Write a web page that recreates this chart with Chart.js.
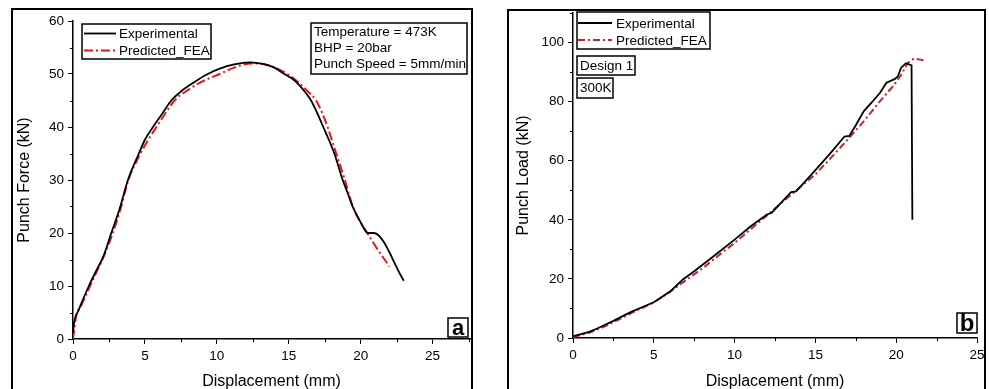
<!DOCTYPE html>
<html>
<head>
<meta charset="utf-8">
<script src="https://cdn.jsdelivr.net/npm/chart.js@4.4.0/dist/chart.umd.min.js"></script>
<style>
  body { margin: 0; width: 989px; height: 389px; overflow: hidden; background: #fff; position: relative; }
  .frame { position: absolute; border: 2px solid #000; box-sizing: border-box; }
  .wrap { position: absolute; top: 0; height: 400px; }
</style>
</head>
<body>
<div class="frame" style="left:11px;top:8px;width:462px;height:400px"></div>
<div class="frame" style="left:507px;top:9px;width:479px;height:400px"></div>
<div class="wrap" style="left:0;width:490px"><canvas id="chartA"></canvas></div>
<div class="wrap" style="left:495px;width:494px"><canvas id="chartB"></canvas></div>
<script>
// panel a: 473K, punch force vs displacement
const expA_x = [0, 0.08, 0.4, 0.75, 1.1, 1.6, 2.1, 2.66, 3.2, 3.82, 4.58, 5.0, 5.56, 6.2, 6.83, 7.5, 8.4, 9.3, 10.2, 11.2, 12.3, 13.2, 14.0, 14.7, 15.3, 15.86, 16.55, 17.0, 17.4, 17.8, 18.17, 18.75, 19.1, 19.44, 20.0, 20.5, 20.9, 23.0];
const expA_y = [1.2, 3.2, 5.5, 7.8, 10.0, 12.8, 15.5, 20.0, 24.2, 30.0, 35.0, 37.6, 40.0, 42.5, 45.0, 46.7, 48.4, 49.9, 51.0, 51.8, 52.2, 51.9, 51.2, 50.0, 49.0, 47.5, 45.0, 42.5, 40.0, 37.5, 35.0, 30.0, 27.5, 25.0, 22.0, 20.0, 20.0, 11.0];
const predA_x = [0, 0.2, 0.6, 1.1, 1.7, 2.2, 2.7, 3.3, 3.85, 4.6, 5.1, 5.8, 6.4, 7.06, 8.0, 9.0, 10.2, 11.2, 12.4, 13.4, 14.2, 14.9, 15.6, 16.3, 16.9, 17.35, 17.7, 18.0, 18.3, 18.9, 19.45, 20.0, 20.5, 21.2, 22.0];
const predA_y = [0, 4.0, 6.5, 9.5, 13.0, 16.0, 19.5, 24.5, 30.0, 34.5, 37.0, 40.0, 42.5, 45.0, 47.0, 48.6, 50.0, 51.2, 52.0, 51.8, 51.0, 50.0, 48.6, 46.8, 45.0, 42.5, 40.0, 37.5, 35.0, 30.0, 25.0, 22.0, 19.8, 16.8, 13.7];
const xTicksA = [0, 5, 10, 15, 20, 25];
const yTicksA = [0, 10, 20, 30, 40, 50, 60];

// panel b: design 1, 300K, punch load vs displacement
const expB_x = [0, 0.5, 1.0, 1.5, 2.5, 3.5, 5.0, 6.0, 6.8, 7.5, 8.5, 10.0, 11.0, 12.0, 12.3, 13.0, 13.5, 13.8, 14.3, 15.0, 16.0, 16.8, 17.1, 17.5, 18.0, 18.5, 19.0, 19.4, 19.9, 20.1, 20.3, 20.6, 20.95, 21.0];
const expB_y = [0.6, 1.3, 2.1, 3.2, 5.8, 8.6, 12.1, 15.7, 19.8, 22.6, 26.8, 33.3, 37.8, 41.8, 42.4, 46.5, 49.4, 49.6, 52.6, 56.8, 63.0, 68.2, 68.4, 72.0, 76.8, 79.8, 83.0, 86.4, 87.6, 88.5, 91.4, 93.0, 92.3, 40.0];
const predB_x = [0, 1, 2, 3, 4, 5, 6, 7, 8, 9, 10, 11, 12, 13, 14, 15, 16, 17, 18, 19, 19.8, 20.3, 20.7, 21.1, 21.4, 21.7];
const predB_y = [0.3, 1.8, 4.0, 6.7, 9.5, 12.0, 15.6, 19.6, 23.5, 27.9, 32.2, 36.8, 41.5, 46.2, 50.8, 55.4, 61.2, 67.2, 73.4, 80.2, 85.2, 89.0, 93.0, 94.6, 94.3, 94.0];
const xTicksB = [0, 5, 10, 15, 20, 25];
const yTicksB = [0, 20, 40, 60, 80, 100];

const seriesNames = ["Experimental", "Predicted_FEA"];

Chart.defaults.font.family = "'Liberation Sans', Arial, sans-serif";
Chart.defaults.color = "#000";

function pts(xs, ys) {
  return xs.map((x, i) => ({ x: x, y: ys[i] }));
}

// short outward ticks halfway between the labelled ones
const minorTicks = {
  id: "minorTicks",
  afterDraw(chart) {
    const ctx = chart.ctx;
    const area = chart.chartArea;
    ctx.save();
    ctx.strokeStyle = "#000";
    ctx.lineWidth = 1;
    ["x", "y"].forEach((id) => {
      const s = chart.scales[id];
      const vals = s.ticks.map((t) => t.value);
      const step = vals[1] - vals[0];
      const minors = [];
      vals.forEach((v) => {
        if (v + step / 2 <= s.max) minors.push(v + step / 2);
      });
      minors.forEach((v) => {
        const p = Math.round(s.getPixelForValue(v)) + 0.5;
        ctx.beginPath();
        if (id === "x") {
          ctx.moveTo(p, area.bottom);
          ctx.lineTo(p, area.bottom + 3);
        } else {
          ctx.moveTo(area.left - 3, p);
          ctx.lineTo(area.left, p);
        }
        ctx.stroke();
      });
    });
    ctx.restore();
  },
};

// legend box and framed text notes
const notes = {
  id: "notes",
  afterDraw(chart, args, opts) {
    const ctx = chart.ctx;
    ctx.save();
    ctx.lineWidth = 1.5;
    ctx.strokeStyle = "#000";
    ctx.fillStyle = "#000";
    ctx.textBaseline = "middle";
    const lg = opts.legend;
    ctx.fillStyle = "#fff";
    ctx.fillRect(lg.x, lg.y, lg.w, lg.h);
    ctx.strokeRect(lg.x, lg.y, lg.w, lg.h);
    chart.data.datasets.forEach((ds, i) => {
      const y = lg.rows[i];
      ctx.save();
      ctx.strokeStyle = ds.borderColor;
      ctx.lineWidth = ds.borderWidth;
      ctx.setLineDash(ds.borderDash || []);
      ctx.beginPath();
      ctx.moveTo(lg.lineFrom, y);
      ctx.lineTo(lg.lineTo, y);
      ctx.stroke();
      ctx.restore();
      ctx.fillStyle = "#000";
      ctx.font = "13.5px 'Liberation Sans', Arial, sans-serif";
      ctx.textAlign = "left";
      ctx.fillText(ds.label, lg.textX, y + 1);
    });
    (opts.boxes || []).forEach((b) => {
      ctx.strokeRect(b.x, b.y, b.w, b.h);
      ctx.font = b.font;
      ctx.textAlign = b.center ? "center" : "left";
      b.lines.forEach((t, i) => {
        const tx = b.center ? b.x + b.w / 2 : b.x + 3;
        ctx.fillText(t, tx, b.firstY + i * b.gap);
      });
    });
    ctx.restore();
  },
};

function axis(title, min, max, ticks, fit, titlePad) {
  return {
    type: "linear",
    min: min,
    max: max,
    afterBuildTicks: (s) => {
      s.ticks = ticks.map((v) => ({ value: v }));
    },
    afterFit: fit,
    grid: { drawOnChartArea: false, drawTicks: true, tickLength: 5, color: "#000", tickWidth: 1 },
    border: { display: true, color: "#000", width: 1.5 },
    ticks: { color: "#000", font: { size: 13.5 }, padding: 4, maxRotation: 0 },
    title: { display: true, text: title, color: "#000", font: { size: 16 }, padding: titlePad },
  };
}

const commonOpts = {
  responsive: true,
  maintainAspectRatio: false,
  animation: false,
  plugins: { legend: { display: false }, tooltip: { enabled: false } },
  elements: { point: { radius: 0 } },
};

new Chart(document.getElementById("chartA"), {
  type: "line",
  data: {
    datasets: [
      { label: seriesNames[0], data: pts(expA_x, expA_y), borderColor: "#000", borderWidth: 1.8, cubicInterpolationMode: "monotone" },
      { label: seriesNames[1], data: pts(predA_x, predA_y), borderColor: "#e8141b", borderWidth: 2, borderDash: [9, 3, 2, 3], cubicInterpolationMode: "monotone" },
    ],
  },
  options: {
    ...commonOpts,
    layout: { padding: { left: 0, right: 20, top: 21, bottom: 0 } },
    scales: {
      x: axis("Displacement (mm)", 0, 27.6, xTicksA, (s) => { s.height = 61; }, { top: 0, bottom: 9 }),
      y: axis("Punch Force (kN)", 0, 60, yTicksA, (s) => { s.width = 73; }, { top: 15, bottom: 0 }),
    },
    plugins: {
      ...commonOpts.plugins,
      notes: {
        legend: { x: 82, y: 24, w: 129, h: 35, rows: [33.5, 50.5], lineFrom: 84, lineTo: 116, textX: 119 },
        boxes: [
          { x: 311, y: 23, w: 156, h: 51, font: "13.5px 'Liberation Sans', Arial, sans-serif", firstY: 32, gap: 16.3,
            lines: ["Temperature = 473K", "BHP = 20bar", "Punch Speed = 5mm/min"] },
          { x: 448, y: 318, w: 20, h: 19, font: "bold 22px 'Liberation Sans', Arial, sans-serif", firstY: 328.5, gap: 0, center: true, lines: ["a"] },
        ],
      },
    },
  },
  plugins: [minorTicks, notes],
});

new Chart(document.getElementById("chartB"), {
  type: "line",
  data: {
    datasets: [
      { label: seriesNames[0], data: pts(expB_x, expB_y), borderColor: "#000", borderWidth: 1.8, tension: 0 },
      { label: seriesNames[1], data: pts(predB_x, predB_y), borderColor: "#c0272d", borderWidth: 2, borderDash: [7, 3, 2, 3], tension: 0 },
    ],
  },
  options: {
    ...commonOpts,
    layout: { padding: { left: 0, right: 12, top: 13, bottom: 0 } },
    scales: {
      x: axis("Displacement (mm)", 0, 25, xTicksB, (s) => { s.height = 62; }, { top: 0, bottom: 9 }),
      y: axis("Punch Load (kN)", 0, 110, yTicksB, (s) => { s.width = 78; }, { top: 19, bottom: 0 }),
    },
    plugins: {
      ...commonOpts.plugins,
      notes: {
        legend: { x: 82, y: 12, w: 133, h: 37, rows: [23, 40], lineFrom: 83, lineTo: 117, textX: 121 },
        boxes: [
          { x: 82, y: 56, w: 58, h: 19, font: "13.5px 'Liberation Sans', Arial, sans-serif", firstY: 66, gap: 0, lines: ["Design 1"] },
          { x: 82, y: 78, w: 36, h: 20, font: "13.5px 'Liberation Sans', Arial, sans-serif", firstY: 88.5, gap: 0, lines: ["300K"] },
          { x: 462, y: 313, w: 20, h: 20, font: "bold 24px 'Liberation Sans', Arial, sans-serif", firstY: 324, gap: 0, center: true, lines: ["b"] },
        ],
      },
    },
  },
  plugins: [minorTicks, notes],
});
</script>
</body>
</html>
